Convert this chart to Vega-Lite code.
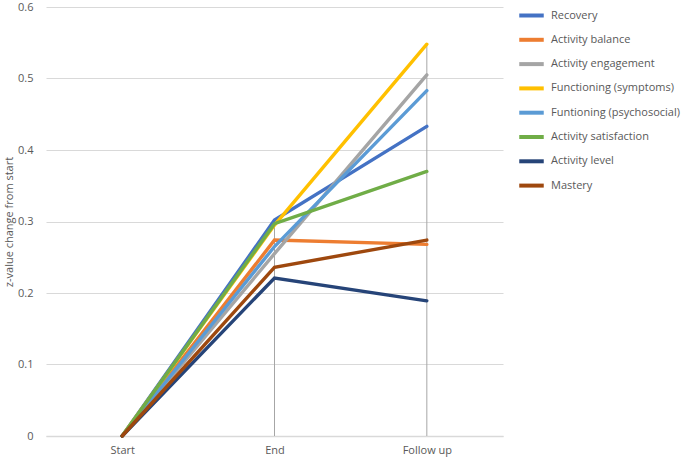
{
  "$schema": "https://vega.github.io/schema/vega-lite/v6.json",
  "width": 457,
  "height": 429,
  "autosize": {"type": "none"},
  "padding": {"left": 46, "top": 7, "right": 182, "bottom": 24},
  "background": "white",
  "config": {
    "view": {"stroke": null},
    "font": "Open Sans",
    "axis": {"labelColor": "#595959", "titleColor": "#595959", "labelFontSize": 11, "titleFontSize": 11, "titleFontWeight": "normal"},
    "legend": {"labelColor": "#595959", "labelFontSize": 11}
  },
  "data": {
    "values": [
      {"stage": "Start", "series": "Recovery", "value": 0},
      {"stage": "End", "series": "Recovery", "value": 0.302},
      {"stage": "Follow up", "series": "Recovery", "value": 0.433},
      {"stage": "Start", "series": "Activity balance", "value": 0},
      {"stage": "End", "series": "Activity balance", "value": 0.274},
      {"stage": "Follow up", "series": "Activity balance", "value": 0.268},
      {"stage": "Start", "series": "Activity engagement", "value": 0},
      {"stage": "End", "series": "Activity engagement", "value": 0.255},
      {"stage": "Follow up", "series": "Activity engagement", "value": 0.505},
      {"stage": "Start", "series": "Functioning (symptoms)", "value": 0},
      {"stage": "End", "series": "Functioning (symptoms)", "value": 0.295},
      {"stage": "Follow up", "series": "Functioning (symptoms)", "value": 0.548},
      {"stage": "Start", "series": "Funtioning (psychosocial)", "value": 0},
      {"stage": "End", "series": "Funtioning (psychosocial)", "value": 0.265},
      {"stage": "Follow up", "series": "Funtioning (psychosocial)", "value": 0.483},
      {"stage": "Start", "series": "Activity satisfaction", "value": 0},
      {"stage": "End", "series": "Activity satisfaction", "value": 0.297},
      {"stage": "Follow up", "series": "Activity satisfaction", "value": 0.37},
      {"stage": "Start", "series": "Activity level", "value": 0},
      {"stage": "End", "series": "Activity level", "value": 0.221},
      {"stage": "Follow up", "series": "Activity level", "value": 0.189},
      {"stage": "Start", "series": "Mastery", "value": 0},
      {"stage": "End", "series": "Mastery", "value": 0.236},
      {"stage": "Follow up", "series": "Mastery", "value": 0.274}
    ]
  },
  "encoding": {
    "x": {
      "field": "stage", "type": "ordinal",
      "sort": ["Start", "End", "Follow up"],
      "scale": {"type": "point", "padding": 0.5},
      "axis": {"title": null, "labelAngle": 0, "ticks": false, "domainColor": "#D9D9D9", "domainWidth": 1.5, "labelPadding": 8, "grid": false}
    }
  },
  "layer": [
    {
      "transform": [{"aggregate": [{"op": "max", "field": "value", "as": "maxv"}], "groupby": ["stage"]}],
      "mark": {"type": "rule", "color": "#A6A6A6", "strokeWidth": 1},
      "encoding": {
        "y": {"field": "maxv", "type": "quantitative"},
        "y2": {"datum": 0}
      }
    },
    {
      "mark": {"type": "line", "strokeWidth": 3.4, "strokeCap": "round"},
      "encoding": {
        "y": {
          "field": "value", "type": "quantitative",
          "scale": {"domain": [0, 0.6]},
          "axis": {"title": "z-value change from start", "values": [0, 0.1, 0.2, 0.3, 0.4, 0.5, 0.6], "format": ".1~f", "labelOverlap": false, "domain": false, "ticks": false, "gridColor": "#D9D9D9", "labelPadding": 13, "titlePadding": 3}
        },
        "color": {
          "field": "series", "type": "nominal",
          "scale": {
            "domain": ["Recovery", "Activity balance", "Activity engagement", "Functioning (symptoms)", "Funtioning (psychosocial)", "Activity satisfaction", "Activity level", "Mastery"],
            "range": ["#4472C4", "#ED7D31", "#A5A5A5", "#FFC000", "#5B9BD5", "#70AD47", "#264478", "#9E480E"]
          },
          "legend": {"title": null, "orient": "none", "legendX": 471, "legendY": -6, "symbolType": "stroke", "symbolSize": 600, "symbolStrokeWidth": 4, "rowPadding": 1.3, "labelOffset": 5}
        }
      }
    }
  ]
}
